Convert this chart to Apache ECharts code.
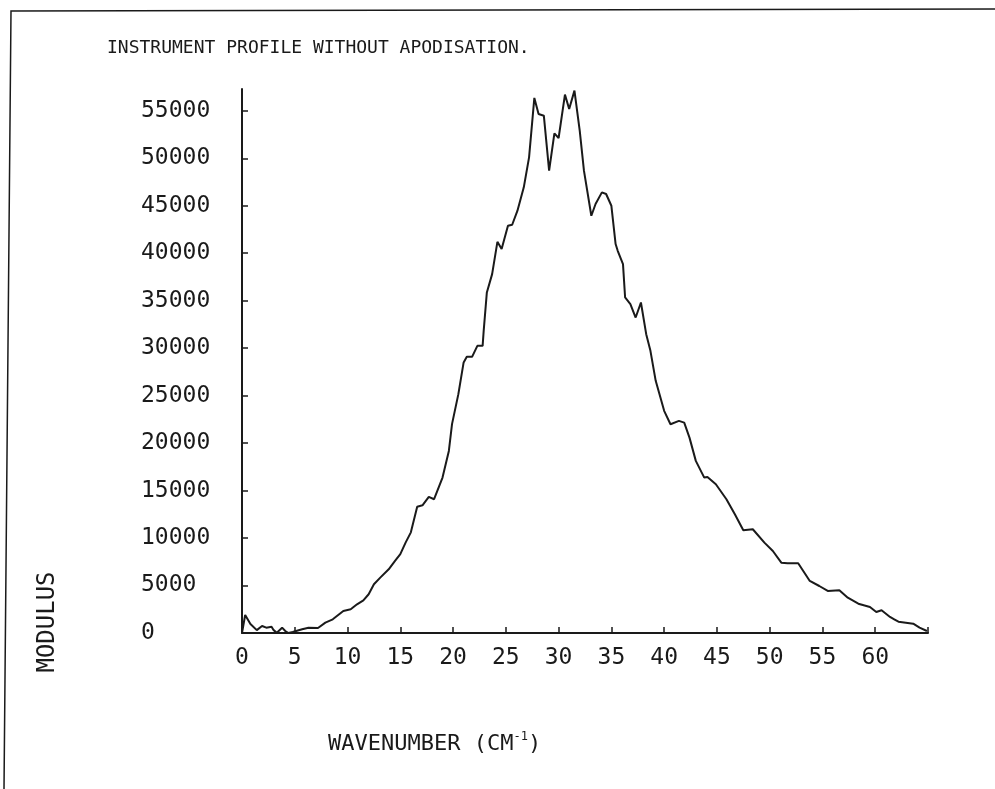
<!DOCTYPE html>
<html>
<head>
<meta charset="utf-8">
<script src="https://cdn.jsdelivr.net/npm/echarts@6/dist/echarts.min.js"></script>
<style>
  html, body { margin: 0; padding: 0; background: #fff; }
  #chart { width: 995px; height: 789px; }
</style>
</head>
<body>
<div id="chart"></div>
<script>
// wavenumber (cm-1) and modulus
const wavenumber = [
  0.0, 0.3, 0.8, 1.4, 1.9, 2.3, 2.8, 3.0, 3.3, 3.8, 4.1, 4.4, 4.8, 5.7, 6.3, 7.2,
  7.9, 8.6, 9.6, 10.3, 10.9, 11.5, 12.0, 12.5, 13.1, 13.9, 14.5, 15.0, 15.5, 16.0,
  16.6, 17.1, 17.7, 18.2, 19.0, 19.6, 19.9, 20.5, 21.0, 21.3, 21.8, 22.3, 22.8, 22.9,
  23.2, 23.7, 24.2, 24.6, 25.2, 25.6, 26.1, 26.7, 27.2, 27.7, 28.1, 28.6, 29.1, 29.6,
  30.0, 30.6, 31.0, 31.5, 32.0, 32.4, 33.1, 33.5, 34.1, 34.5, 35.0, 35.4, 35.6, 36.1,
  36.3, 36.8, 37.3, 37.8, 38.3, 38.7, 39.2, 40.0, 40.6, 41.4, 41.9, 42.4, 43.0, 43.8,
  44.1, 44.9, 45.9, 46.7, 47.5, 48.4, 49.5, 50.3, 51.1, 51.7, 52.7, 53.8, 54.7, 55.5,
  56.6, 57.4, 58.4, 59.5, 60.1, 60.6, 61.4, 61.8, 62.2, 62.9, 63.6, 64.2, 64.9
];
const modulus = [
  0, 1900, 950, 300, 740, 560, 660, 300, 30, 560, 210, 0, 100, 390, 560, 530,
  1090, 1440, 2320, 2500, 3020, 3440, 4080, 5130, 5830, 6710, 7590, 8300, 9520, 10600,
  13300, 13450, 14330, 14090, 16370, 19180, 22000, 25160, 28500, 29090, 29090, 30250, 30250, 31830,
  35870, 37800, 41200, 40440, 42900, 43000, 44480, 46940, 50100, 56360, 54670, 54490, 48700, 52630,
  52140, 56710, 55200, 57130, 52910, 48700, 43950, 45190, 46410, 46240, 45000, 40970, 40260, 38860,
  35340, 34640, 33230, 34810, 31480, 29720, 26560, 23400, 21990, 22340, 22160, 20580, 18130, 16370,
  16440, 15670, 14090, 12510, 10820, 10930, 9520, 8640, 7410, 7350, 7350, 5480, 4950, 4430,
  4500, 3720, 3090, 2740, 2210, 2390, 1690, 1440, 1190, 1090, 980, 560, 210
];

const titleText = "INSTRUMENT PROFILE WITHOUT APODISATION.";
const yTitle = "MODULUS";

const font = "DejaVu Sans Mono";
const ink = "#1a1a1a";

const chart = echarts.init(document.getElementById("chart"));

chart.setOption({
  backgroundColor: "#fff",
  animation: false,
  title: {
    text: titleText,
    left: 102,
    top: 34,
    textStyle: { fontFamily: font, fontSize: 18, fontWeight: "normal", color: ink },
  },
  grid: { left: 242, right: 67, top: 89, bottom: 156 },
  xAxis: {
    type: "value",
    min: 0,
    max: 65,
    interval: 5,
    splitLine: { show: false },
    axisLine: { lineStyle: { color: ink, width: 2 } },
    axisTick: { inside: true, length: 6, lineStyle: { color: ink, width: 1.5 } },
    axisLabel: {
      margin: 14,
      fontFamily: font,
      fontSize: 23,
      color: ink,
      formatter: (v) => (v > 60 ? "" : String(v)),
    },
  },
  yAxis: {
    type: "value",
    min: 0,
    max: 57300,
    interval: 5000,
    splitLine: { show: false },
    axisLine: { show: true, lineStyle: { color: ink, width: 2 } },
    axisTick: { inside: true, length: 6, lineStyle: { color: ink, width: 1.5 } },
    axisLabel: {
      showMaxLabel: false,
      align: "left",
      margin: 101,
      fontFamily: font,
      fontSize: 23,
      color: ink,
      formatter: (v) => String(v),
    },
  },
  graphic: [
    {
      type: "polyline",
      shape: { points: [[4, 789], [11, 11], [995, 9]] },
      style: { stroke: ink, lineWidth: 1.5, fill: null },
    },
    {
      type: "text",
      x: 48,
      y: 622,
      rotation: Math.PI / 2,
      style: {
        text: yTitle,
        font: "24px " + font,
        fill: ink,
        align: "center",
        verticalAlign: "middle",
      },
    },
    {
      type: "text",
      x: 328,
      y: 744,
      style: {
        text: "{a|WAVENUMBER (CM}{s|-1}{a|)}",
        fill: ink,
        verticalAlign: "middle",
        rich: {
          a: { fontFamily: font, fontSize: 22, fill: ink, color: ink },
          s: { fontFamily: font, fontSize: 12, fill: ink, color: ink, verticalAlign: "top", padding: [0, 0, 14, 0] },
        },
      },
    },
  ],
  series: [
    {
      type: "line",
      data: wavenumber.map((w, i) => [w, modulus[i]]),
      showSymbol: false,
      lineStyle: { color: ink, width: 2 },
    },
  ],
});
</script>
</body>
</html>
